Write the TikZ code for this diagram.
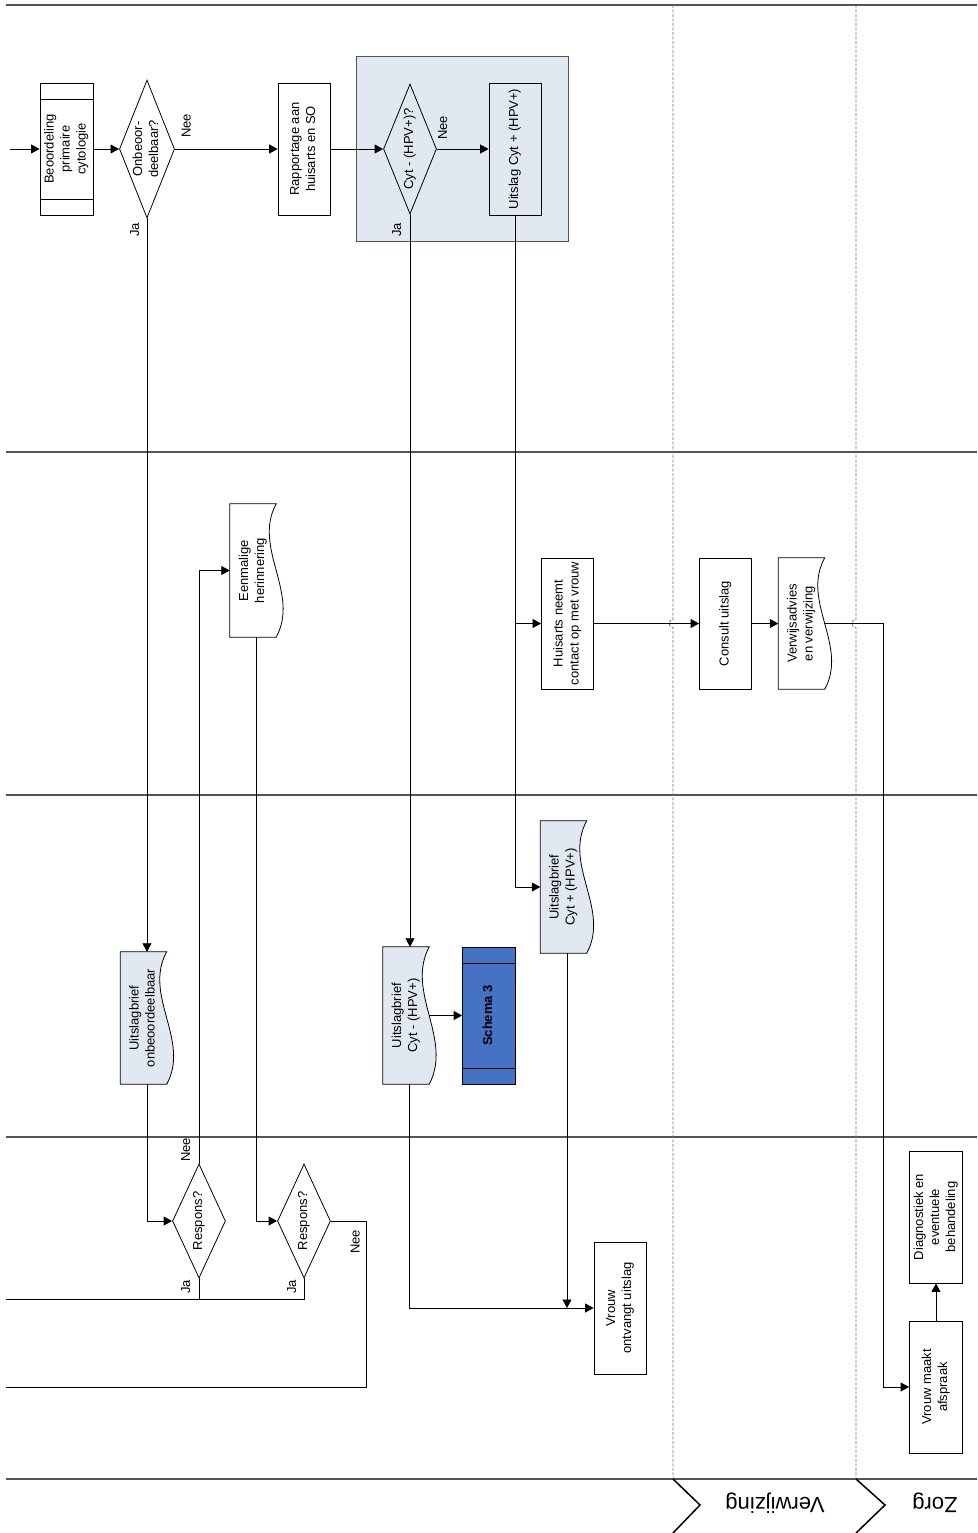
\documentclass[tikz,border=0pt]{standalone}
\usepackage{fontspec}
\setmainfont{Liberation Sans}
\usepackage{graphicx}
\usetikzlibrary{shapes.geometric,arrows.meta,calc,backgrounds}

\definecolor{docfill}{RGB}{225,232,242}
\definecolor{schemablue}{RGB}{70,114,196}
\definecolor{laneline}{RGB}{85,85,85}

\newcommand{\rottxt}[1]{\rotatebox{90}{\begin{tabular}{@{}c@{}}#1\end{tabular}}}
\newcommand{\docshape}[2]{%
  \draw[line width=.8pt,fill=#2] (#1.north west) -- (#1.north east)
    .. controls ($(#1.north east)!.33!(#1.south east)+(-24,0)$)
    and ($(#1.north east)!.67!(#1.south east)+(24,0)$) .. (#1.south east)
    -- (#1.south west) -- cycle;}

\begin{document}
\begin{tikzpicture}[x=1pt,y=-1pt,
every node/.style={font=\fontsize{13}{16}\selectfont},
proc/.style={rectangle,draw,line width=.8pt,inner sep=0pt,minimum width=52pt,minimum height=132pt},
predef/.style={proc,minimum width=53pt,
  path picture={\draw ([yshift=-16pt]path picture bounding box.north west) -- ([yshift=-16pt]path picture bounding box.north east)
    ([yshift=16pt]path picture bounding box.south west) -- ([yshift=16pt]path picture bounding box.south east);}},
dia/.style={diamond,draw,line width=.8pt,inner sep=0pt,aspect=0.4,minimum width=53pt,minimum height=130pt},
doc/.style={rectangle,inner sep=0pt,minimum width=46pt,minimum height=132pt},
grpbox/.style={rectangle,draw=laneline,fill=docfill,line width=1pt,minimum width=212pt,minimum height=184pt},
lbl/.style={inner sep=0pt},
hdr/.style={rotate=180,font=\fontsize{22}{26}\selectfont},
lane/.style={draw=laneline,line width=1.3pt},
sep/.style={draw=black!55,line width=.8pt,dash pattern=on 3pt off 1.5pt},
chev/.style={line width=1.5pt},
arr/.style={-{Triangle[length=8.5pt,width=9pt]},line width=.8pt},
line/.style={line width=.8pt},
]
\useasboundingbox (0,0) rectangle (977,1533);

\foreach \y in {5,452,795,1137,1479}
  \draw[lane] (6,\y) -- (977,\y);
\draw[sep] (673,5) -- (673,619.5) arc[start angle=270,end angle=90,radius=4] -- (673,1479);
\draw[sep] (856,5) -- (856,619.5) arc[start angle=270,end angle=90,radius=4] -- (856,1479);
\draw[chev] (673,1479) -- (700,1505) -- (673,1533);
\draw[chev] (856,1479) -- (885,1505) -- (856,1533);
\node[hdr] (verwlane) at (775,1503) {Verwijzing};
\node[hdr] (zorglane) at (935,1503) {Zorg};

\node[grpbox] (grp) at (462,149) {};

\coordinate (start) at (10,149);
\node[predef] (beoord) at (66.5,149) {\rottxt{Beoordeling\\primaire\\cytologie}};
\node[dia] (onbeo) at (147,149) {\rottxt{Onbeoor-\\deelbaar?}};
\node[proc] (rapport) at (304,149) {\rottxt{Rapportage aan\\huisarts en SO}};
\node[dia] (cytmin) at (410,149) {\rottxt{Cyt - (HPV+)?}};
\node[proc] (uitsl) at (515,149) {\rottxt{Uitslag Cyt + (HPV+)}};

\node[doc,minimum height=133pt] (herinn) at (253,570.5) {\rottxt{Eenmalige\\herinnering}};
\node[proc,minimum height=131pt] (huisarts) at (567.5,623.5) {\rottxt{Huisarts neemt\\contact op met vrouw}};
\node[proc,minimum height=131pt] (consult) at (725.5,623.5) {\rottxt{Consult uitslag}};
\node[doc,minimum height=131pt] (verwijs) at (801.5,623.5) {\rottxt{Verwijsadvies\\en verwijzing}};

\node[doc] (brfonb) at (143.5,1018) {\rottxt{Uitslagbrief\\onbeoordeelbaar}};
\node[doc,minimum height=137pt] (brfmin) at (406,1015.5) {\rottxt{Uitslagbrief\\Cyt - (HPV+)}};
\node[predef,fill=schemablue,minimum height=137pt] (schema) at (489,1015.5) {\rottxt{\textbf{Schema 3}}};
\node[doc] (brfplus) at (563.5,887) {\rottxt{Uitslagbrief\\Cyt + (HPV+)}};

\node[dia,minimum height=114pt] (resp1) at (199,1221) {\rottxt{Respons?}};
\node[dia,minimum height=114pt] (resp2) at (304,1221) {\rottxt{Respons?}};
\node[proc] (vrouwu) at (620,1308) {\rottxt{Vrouw\\ontvangt uitslag}};
\node[proc,minimum width=53pt] (afspr) at (936,1387) {\rottxt{Vrouw maakt\\afspraak}};
\node[proc,minimum width=53pt] (diagn) at (936,1217) {\rottxt{Diagnostiek en\\eventuele\\behandeling}};

\begin{scope}[on background layer]
\docshape{herinn}{white}
\docshape{verwijs}{white}
\docshape{brfonb}{docfill}
\docshape{brfmin}{docfill}
\docshape{brfplus}{docfill}
\end{scope}

\draw[arr] (start) -- (beoord);
\draw[arr] (beoord) -- (onbeo);
\draw[arr] (onbeo) -- (rapport);
\draw[arr] (rapport) -- (cytmin);
\draw[arr] (cytmin) -- (uitsl);
\draw[arr] (onbeo) -- (onbeo |- brfonb.north);
\draw[arr] (cytmin) -- (cytmin |- brfmin.north);
\draw[arr] (uitsl) |- (brfplus);
\draw[arr] (uitsl.south |- huisarts) -- (huisarts);
\draw[arr] (huisarts) -- (consult);
\draw[arr] (consult) -- (verwijs);
\coordinate (vbend) at (883.5,623.5);
\draw[arr] (verwijs) -- (vbend) |- (afspr);
\draw[arr] (afspr) -- (diagn);
\draw[arr] (brfmin) -- (schema);
\draw[arr] ([xshift=3.5pt]brfonb.south) |- (resp1);
\draw[arr] (resp1) |- (herinn);
\draw[arr] ([xshift=3.5pt]herinn.south) |- (resp2);
\draw[arr] ([xshift=3.5pt]brfmin.south) |- (vrouwu);
\draw[arr] ([xshift=3.5pt]brfplus.south) -- ([xshift=3.5pt]brfplus.south |- vrouwu);
\coordinate (jaout) at (6,1299);
\draw[line] (resp2) |- (jaout);
\draw[line] (resp1) -- (resp1 |- jaout);
\coordinate (neebend) at (366.5,1387);
\coordinate (neeout) at (6,1387);
\draw[line] (resp2) -| (neebend) -- (neeout);

\node[lbl] (neeA) at (187.5,126) {\rottxt{Nee}};
\node[lbl] (jaA) at (136,230) {\rottxt{Ja}};
\node[lbl] (neeB) at (444,128) {\rottxt{Nee}};
\node[lbl] (jaB) at (398,230) {\rottxt{Ja}};
\node[lbl] (neeC) at (187,1150) {\rottxt{Nee}};
\node[lbl] (jaC) at (187,1287) {\rottxt{Ja}};
\node[lbl] (jaD) at (293,1287) {\rottxt{Ja}};
\node[lbl] (neeD) at (356.5,1242) {\rottxt{Nee}};
\end{tikzpicture}
\end{document}
